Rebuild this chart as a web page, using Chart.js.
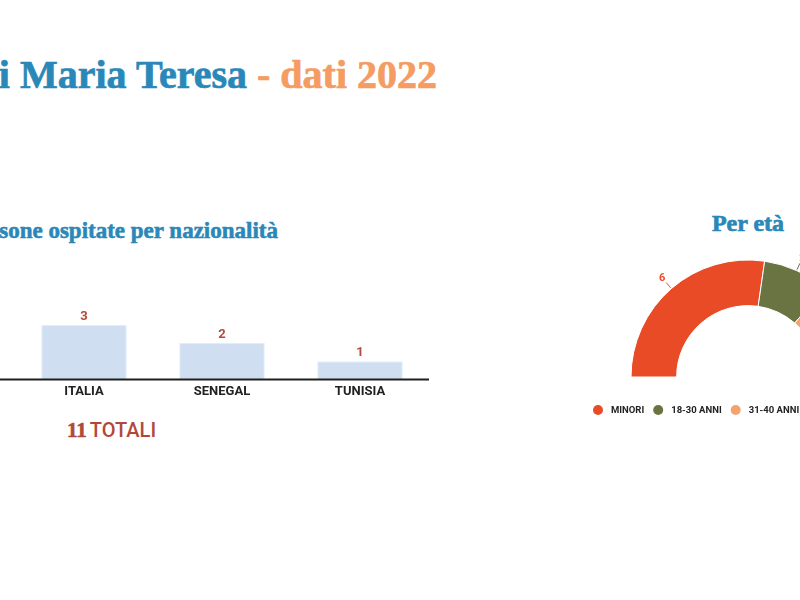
<!DOCTYPE html>
<html lang="it">
<head>
<meta charset="utf-8">
<title>Maria Teresa - dati 2022</title>
<script src="https://cdn.jsdelivr.net/npm/chart.js@4.4.0/dist/chart.umd.min.js"></script>
<style>
  html, body { margin: 0; padding: 0; background: #fff; }
  body { width: 800px; height: 600px; overflow: hidden; position: relative; }
  .serif { font-family: "Liberation Serif", "DejaVu Serif", serif; font-weight: bold; white-space: nowrap; line-height: 1; position: absolute; }
  #title { right: 363px; top: 55px; font-size: 40px; -webkit-text-stroke: 0.7px currentColor; }
  #title .blue { color: #2a88b9; }
  #title .orange { color: #f49c62; }
  #barTitle { right: 522px; top: 219px; font-size: 23px; color: #2a88b9; -webkit-text-stroke: 0.6px #2a88b9; }
  #doughTitle { left: 648px; width: 200px; text-align: center; top: 211px; font-size: 24px; color: #2a88b9; -webkit-text-stroke: 0.7px #2a88b9; }
  #totals { position: absolute; left: 67px; top: 420px; line-height: 1; white-space: nowrap; color: #b0493b; }
  #totals .num { font-family: "Liberation Serif", serif; font-weight: bold; font-size: 21px; -webkit-text-stroke: 0.6px #b0493b; }
  #totals .lbl { font-family: Roboto, sans-serif; font-weight: 500; font-size: 20px; margin-left: 3px; }
  #barWrap { position: absolute; left: 0; top: 260px; width: 429px; height: 145px; }
  #doughWrap { position: absolute; left: 580px; top: 241px; width: 336px; height: 184px; }
</style>
</head>
<body>
<div id="title" class="serif"><span class="blue">di Maria Teresa</span> <span class="orange">- dati 2022</span></div>
<div id="barTitle" class="serif">Persone ospitate per nazionalità</div>
<div id="doughTitle" class="serif">Per età</div>
<div id="totals"><span class="num">11</span><span class="lbl">TOTALI</span></div>
<div id="barWrap"><canvas id="bars"></canvas></div>
<div id="doughWrap"><canvas id="ages"></canvas></div>
<script>
// Persone ospitate per nazionalità
const nationalities = ["ITALIA", "SENEGAL", "TUNISIA"];
const guestsByNationality = [3, 2, 1];

// Persone ospitate per età
const ageGroups = ["MINORI", "18-30 ANNI", "31-40 ANNI"];
const guestsByAge = [6, 2, 3];
const ageColors = ["#e84b26", "#6a7442", "#f5a26c"];

// Baseline across the whole bar panel plus value labels above each bar
const barDecor = {
  id: "barDecor",
  afterDatasetsDraw(chart) {
    const { ctx, chartArea } = chart;
    ctx.save();
    ctx.strokeStyle = "#1f1f1f";
    ctx.lineWidth = 2;
    ctx.beginPath();
    ctx.moveTo(0, chartArea.bottom);
    ctx.lineTo(chartArea.right + 1, chartArea.bottom);
    ctx.stroke();
    const meta = chart.getDatasetMeta(0);
    ctx.fillStyle = "#b5483c";
    ctx.font = "bold 13px Roboto, sans-serif";
    ctx.textAlign = "center";
    ctx.textBaseline = "middle";
    meta.data.forEach((bar, i) => {
      ctx.fillText(String(chart.data.datasets[0].data[i]), bar.x, bar.y - 8);
    });
    ctx.restore();
  }
};

new Chart(document.getElementById("bars"), {
  type: "bar",
  data: {
    labels: nationalities,
    datasets: [{
      data: guestsByNationality,
      backgroundColor: "#cfdff1",
      borderColor: "#e3edf8",
      borderWidth: 1,
      categoryPercentage: 1,
      barPercentage: 0.62
    }]
  },
  options: {
    responsive: true,
    maintainAspectRatio: false,
    animation: false,
    layout: { padding: { left: 15, top: 10, right: 0, bottom: 0 } },
    plugins: { legend: { display: false }, tooltip: { enabled: false } },
    scales: {
      x: {
        grid: { display: false, drawTicks: false },
        border: { display: false },
        ticks: { color: "#222", padding: 5, font: { family: "Roboto", size: 13, weight: "bold" } }
      },
      y: { display: false, min: 0, max: 6 }
    }
  },
  plugins: [barDecor]
});

// Outside labels with short leader lines on the half doughnut
const arcLabels = {
  id: "arcLabels",
  afterDatasetsDraw(chart) {
    const { ctx } = chart;
    const meta = chart.getDatasetMeta(0);
    ctx.save();
    ctx.font = "bold 11px Roboto, sans-serif";
    ctx.textAlign = "center";
    ctx.textBaseline = "middle";
    meta.data.forEach((arc, i) => {
      const a = (arc.startAngle + arc.endAngle) / 2;
      const r = arc.outerRadius;
      const c = ageColors[i];
      ctx.strokeStyle = c;
      ctx.lineWidth = 1;
      ctx.beginPath();
      ctx.moveTo(arc.x + Math.cos(a) * (r + 1), arc.y + Math.sin(a) * (r + 1));
      ctx.lineTo(arc.x + Math.cos(a) * (r + 8), arc.y + Math.sin(a) * (r + 8));
      ctx.stroke();
      ctx.fillStyle = c;
      ctx.fillText(String(chart.data.datasets[0].data[i]), arc.x + Math.cos(a) * (r + 14), arc.y + Math.sin(a) * (r + 14));
    });
    ctx.restore();
  }
};

// Legend row under the half doughnut: dot, then label, left aligned
const ageLegend = {
  id: "ageLegend",
  afterDraw(chart) {
    const { ctx, chartArea } = chart;
    const items = chart.data.labels;
    const colors = chart.data.datasets[0].backgroundColor;
    const y = chartArea.bottom + 14;
    let x = chartArea.left + 18;
    ctx.save();
    ctx.font = "bold 9.5px Roboto, sans-serif";
    ctx.textAlign = "left";
    ctx.textBaseline = "middle";
    items.forEach((label, i) => {
      ctx.fillStyle = colors[i];
      ctx.beginPath();
      ctx.arc(x, y, 5, 0, Math.PI * 2);
      ctx.fill();
      ctx.fillStyle = "#222";
      ctx.fillText(label, x + 13, y + 0.5);
      x += 13 + ctx.measureText(label).width + 14;
    });
    ctx.restore();
  }
};

new Chart(document.getElementById("ages"), {
  type: "doughnut",
  data: {
    labels: ageGroups,
    datasets: [{
      data: guestsByAge,
      backgroundColor: ageColors,
      borderColor: "#ffffff",
      borderWidth: 1,
      radius: 117,
      cutout: "61%"
    }]
  },
  options: {
    responsive: true,
    maintainAspectRatio: false,
    animation: false,
    rotation: -90,
    circumference: 180,
    layout: { padding: { top: 0, left: 0, right: 0, bottom: 29 } },
    plugins: {
      tooltip: { enabled: false },
      legend: { display: false }
    }
  },
  plugins: [arcLabels, ageLegend]
});
</script>
</body>
</html>
